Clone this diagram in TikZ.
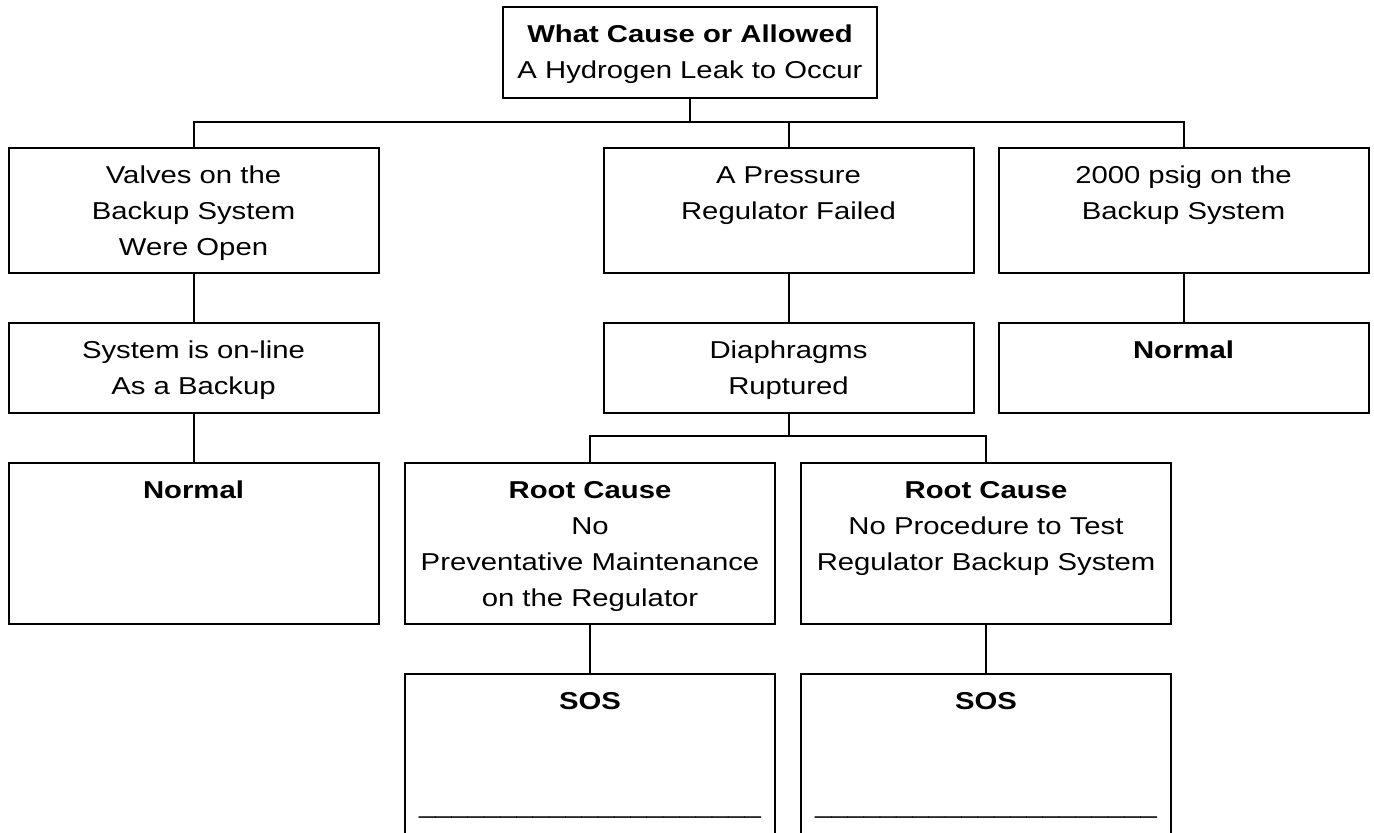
\documentclass[tikz,border=0pt]{standalone}
\usepackage{fontspec}
\setmainfont{Liberation Sans}[FakeStretch=1.2]
\usetikzlibrary{positioning}

\newcommand{\toplines}[1]{\begin{tabular}[t]{@{}c@{}}#1\end{tabular}}
\tikzset{
  cbox/.style={draw,line width=1pt,anchor=north,minimum width=185pt,
    inner xsep=2pt,inner ysep=8.5pt,text height=9pt,text depth=#1},
  cbox/.default=19pt,
  link/.style={line width=1pt}
}

\begin{document}
\begin{tikzpicture}[x=0.5pt,y=-0.5pt,node distance=24pt,font=\fontsize{12.2}{18}\selectfont]
    \useasboundingbox (0,0) rectangle (1374,832);
    \clip (0,0) rectangle (1374,832);
    % top of the tree
    \node[cbox=19.5pt,minimum width=187pt] (cause) at (690,6) {\toplines{\textbf{What Cause or Allowed}\\A Hydrogen Leak to Occur}};
    % first level
    \node[cbox=36.5pt] (valves) at (193.5,147) {\toplines{Valves on the\\Backup System\\Were Open}};
    \node[cbox=36.5pt] (regfail) at (788.5,147) {\toplines{A Pressure\\Regulator Failed}};
    \node[cbox=36.5pt] (psig) at (1183.5,147) {\toplines{2000 psig on the\\Backup System}};
    % second level
    \node[cbox=19pt,below=of valves] (online) {\toplines{System is on-line\\As a Backup}};
    \node[cbox=19pt,below=of regfail] (diaph) {\toplines{Diaphragms\\Ruptured}};
    \node[cbox=19pt,below=of psig] (normalR) {\textbf{Normal}};
    % third level
    \node[cbox=54.5pt,below=of online] (normalL) {\textbf{Normal}};
    \node[cbox=54.5pt] (rootPM) at (590,462) {\toplines{\textbf{Root Cause}\\No\\Preventative Maintenance\\on the Regulator}};
    \node[cbox=54.5pt] (rootTest) at (986,462) {\toplines{\textbf{Root Cause}\\No Procedure to Test\\Regulator Backup System}};
    % SOS boxes, cut off by the page edge
    \node[cbox=68pt,below=of rootPM] (sosPM) {\toplines{\textbf{SOS}\\[34pt]\_\_\_\_\_\_\_\_\_\_\_\_\_\_\_\_\_\_\_\_\_}};
    \node[cbox=68pt,below=of rootTest] (sosTest) {\toplines{\textbf{SOS}\\[34pt]\_\_\_\_\_\_\_\_\_\_\_\_\_\_\_\_\_\_\_\_\_}};
    % connectors
    \coordinate (busTop) at (cause.south |- 0,122);
    \coordinate (busRoot) at (diaph.south |- 0,436);
    \draw[link] (cause) -- (busTop);
    \draw[link] (valves.north) |- (busTop) -| (psig.north);
    \draw[link] (regfail.north) -- (regfail.north |- busTop);
    \draw[link] (valves) -- (online);
    \draw[link] (online) -- (normalL);
    \draw[link] (regfail) -- (diaph);
    \draw[link] (psig) -- (normalR);
    \draw[link] (diaph) -- (busRoot);
    \draw[link] (rootPM.north) |- (busRoot) -| (rootTest.north);
    \draw[link] (rootPM) -- (sosPM);
    \draw[link] (rootTest) -- (sosTest);
  \end{tikzpicture}
\end{document}
